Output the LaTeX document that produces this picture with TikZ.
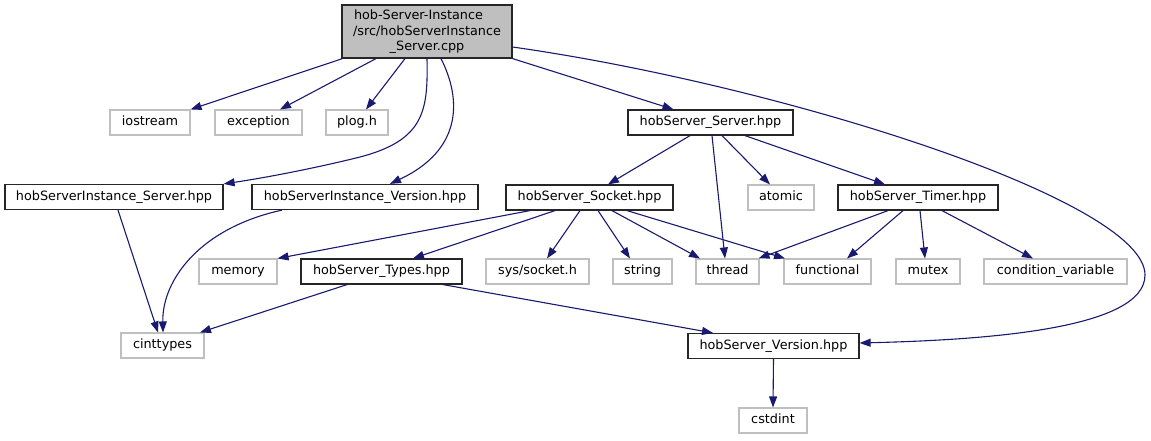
\documentclass[tikz,border=0pt]{standalone}
\usepackage{fontspec}
\setmainfont{DejaVu Sans}
\usetikzlibrary{arrows.meta}
\definecolor{edgeblue}{HTML}{191970}
\definecolor{graybd}{HTML}{BFBFBF}
\definecolor{mainfill}{HTML}{BFBFBF}
\begin{document}
\begin{tikzpicture}[x=1pt,y=-1pt,
  every node/.style={font=\fontsize{12.8}{15.5}\selectfont, inner sep=0pt, text height=9.3pt, text depth=3pt, minimum height=25pt},
  bnode/.style={draw=black!85, line width=1.2pt},
  gnode/.style={draw=graybd, line width=1.1pt},
  dep/.style={draw=edgeblue, line width=1.1pt, -{Triangle[length=11pt,width=8pt]}, color=edgeblue}
]
\useasboundingbox (0,0) rectangle (1151,440);
% nodes
\node[bnode, fill=mainfill, minimum width=170pt, minimum height=53pt, align=center, text height=, text depth=] (main) at (427,31.5)
  {\rule{0pt}{11pt}hob-Server-Instance\hspace*{17pt}\\/src/hobServerInstance\\\_Server.cpp};
\node[gnode, minimum width=80pt] (iostream) at (150,122.5) {iostream};
\node[gnode, minimum width=87pt] (exception) at (258.5,122.5) {exception};
\node[gnode, minimum width=62pt] (plog) at (357,122.5) {plog.h};
\node[bnode, minimum width=218pt] (instserver) at (114,197) {hobServerInstance\_Server.hpp};
\node[bnode, minimum width=226pt] (instversion) at (365,197) {hobServerInstance\_Version.hpp};
\node[bnode, minimum width=165pt] (server) at (710.5,122.5) {hobServer\_Server.hpp};
\node[bnode, minimum width=167pt] (socket) at (589.5,197.5) {hobServer\_Socket.hpp};
\node[gnode, minimum width=66pt] (atomic) at (781,197.5) {atomic};
\node[bnode, minimum width=160pt] (timer) at (918,197.5) {hobServer\_Timer.hpp};
\node[gnode, minimum width=78pt] (memory) at (238,271.5) {memory};
\node[bnode, minimum width=161pt] (types) at (381.5,271.5) {hobServer\_Types.hpp};
\node[gnode, minimum width=103pt] (syssocket) at (537.5,271.5) {sys/socket.h};
\node[gnode, minimum width=59pt] (string) at (642.5,271.5) {string};
\node[gnode, minimum width=63pt] (thread) at (727.5,271.5) {thread};
\node[gnode, minimum width=87pt] (functional) at (827.5,271.5) {functional};
\node[gnode, minimum width=64pt] (mutex) at (928,271.5) {mutex};
\node[gnode, minimum width=143pt] (condvar) at (1055.5,271.5) {condition\_variable};
\node[gnode, minimum width=83pt] (cinttypes) at (162.5,345.5) {cinttypes};
\node[bnode, minimum width=171pt] (version) at (773.5,346) {hobServer\_Version.hpp};
\node[gnode, minimum width=68pt] (cstdint) at (773,420.5) {cstdint};
% edges from main
\draw[dep] ([xshift=1pt]main.south west) -- (iostream.north east);
\draw[dep] ([xshift=-51pt]main.south) -- ([xshift=21.5pt]exception.north);
\draw[dep] ([xshift=-22pt]main.south) -- ([xshift=9pt]plog.north);
\draw[dep] (main.south) .. controls (428,110) and (425,140) .. (360,157)
  .. controls (320,167) and (270,177) .. (instserver.north east);
\draw[dep] ([xshift=14pt]main.south) .. controls (462,100) and (462,150) .. ([xshift=25pt]instversion.north);
\draw[dep] (main.south east) -- ([xshift=-37pt]server.north);
\draw[dep] ([yshift=-15.5pt]main.east) .. controls (780,85) and (1145,200) .. (1145,275)
  .. controls (1145,330) and (980,340) .. ([yshift=3pt]version.east);
% server
\draw[dep] ([xshift=-20.5pt]server.south) -- ([xshift=18.5pt]socket.north);
\draw[dep] ([xshift=1.5pt]server.south) -- ([xshift=-2.5pt]thread.north);
\draw[dep] ([xshift=11.5pt]server.south) -- ([xshift=-11pt]atomic.north);
\draw[dep] ([xshift=34.5pt]server.south) -- ([xshift=-33pt]timer.north);
% socket
\draw[dep] ([xshift=-59.5pt]socket.south) -- (memory.north east);
\draw[dep] ([xshift=-34.5pt]socket.south) -- ([xshift=31.5pt]types.north);
\draw[dep] ([xshift=-9.5pt]socket.south) -- ([xshift=9.5pt]syssocket.north);
\draw[dep] ([xshift=8.5pt]socket.south) -- ([xshift=-12.5pt]string.north);
\draw[dep] ([xshift=22.5pt]socket.south) -- ([xshift=-27.5pt]thread.north);
\draw[dep] ([xshift=37.5pt]socket.south) -- ([xshift=-42.5pt]functional.north);
% timer
\draw[dep] ([xshift=-30pt]timer.south) -- ([xshift=-1pt]thread.north east);
\draw[dep] ([xshift=-15pt]timer.south) -- ([xshift=19.5pt]functional.north);
\draw[dep] ([xshift=2pt]timer.south) -- ([xshift=-3pt]mutex.north);
\draw[dep] ([xshift=24pt]timer.south) -- ([xshift=-22.5pt]condvar.north);
% cinttypes
\draw[dep] ([xshift=4pt]instserver.south) -- ([xshift=-4.5pt]cinttypes.north);
\draw[dep] ([xshift=-83pt]instversion.south) .. controls (200,228) and (162,280) .. ([xshift=0.5pt]cinttypes.north);
\draw[dep] ([xshift=-34.5pt]types.south) -- ([xshift=37.5pt]cinttypes.north);
\draw[dep] ([xshift=61.5pt]types.south) -- ([xshift=-60.5pt]version.north);
\draw[dep] (version.south) -- (cstdint.north);
\end{tikzpicture}
\end{document}
